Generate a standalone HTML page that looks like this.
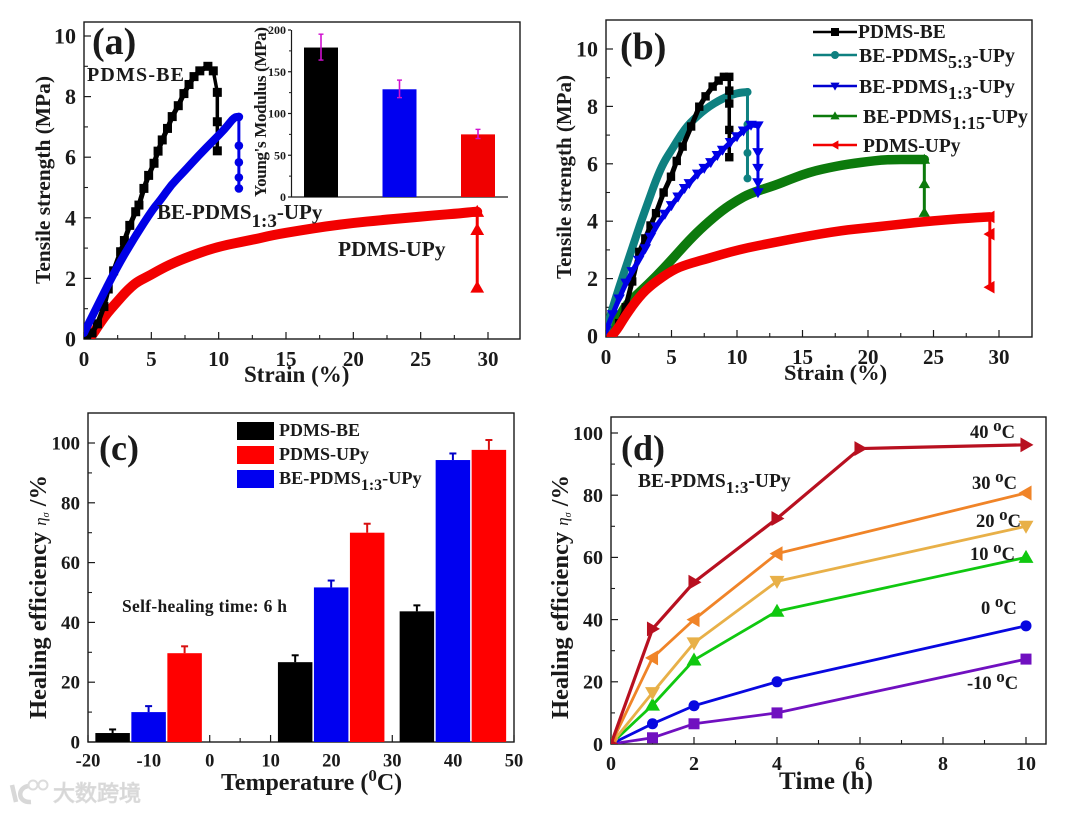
<!DOCTYPE html>
<html lang="en">
<head>
<meta charset="utf-8">
<title>Tensile strength and healing efficiency charts</title>
<style>
html,body{margin:0;padding:0;background:#fff;width:1076px;height:813px;overflow:hidden}
svg{display:block}
text{font-family:"Liberation Serif","Noto Serif CJK SC",serif;font-weight:bold;fill:#1a1a1a}
.wm{font-family:"Liberation Sans","Noto Sans CJK SC",sans-serif;font-weight:normal;fill:#d4d4d4;stroke:#dcdcdc;stroke-width:1}
</style>
</head>
<body>
<svg id="fig" xmlns="http://www.w3.org/2000/svg" width="1076" height="813" viewBox="0 0 1076 813">
  <defs>
    <clipPath id="clip-a"><rect x="84" y="22" width="436" height="317"/></clipPath>
    <clipPath id="clip-b"><rect x="606" y="20" width="426" height="317"/></clipPath>
    <clipPath id="clip-d"><rect x="611" y="417" width="435" height="327"/></clipPath>
  </defs>
  <rect x="0" y="0" width="1076" height="813" fill="#fff"/>

  <g id="panel-a"></g>
  <g id="panel-b"></g>
  <g id="panel-c"></g>
  <g id="panel-d"></g>

  <!-- Panel a text -->
  <text x="92" y="54" font-size="38">(a)</text>
  <text transform="translate(50,180) rotate(-90)" text-anchor="middle" font-size="21.5" textLength="208">Tensile strength (MPa)</text>
  <text x="244" y="382" font-size="23">Strain (%)</text>
  <text x="87" y="81" font-size="20" textLength="97">PDMS-BE</text>
  <text x="157" y="219" font-size="21">BE-PDMS<tspan font-size="19" dy="8">1:3</tspan><tspan dy="-8">-UPy</tspan></text>
  <text x="338" y="256" font-size="21.5">PDMS-UPy</text>
  <text transform="translate(266,112) rotate(-90)" text-anchor="middle" font-size="17" textLength="170">Young's Modulus (MPa)</text>

  <!-- Panel b text -->
  <text x="620" y="59" font-size="38">(b)</text>
  <text transform="translate(571,177) rotate(-90)" text-anchor="middle" font-size="21" textLength="204">Tensile strength (MPa)</text>
  <text x="784" y="380" font-size="22.5">Strain (%)</text>
  <text x="858" y="38" font-size="19.5">PDMS-BE</text>
  <text x="859" y="62" font-size="19.8">BE-PDMS<tspan font-size="18" dy="6">5:3</tspan><tspan dy="-6">-UPy</tspan></text>
  <text x="859" y="93" font-size="19.8">BE-PDMS<tspan font-size="18" dy="6">1:3</tspan><tspan dy="-6">-UPy</tspan></text>
  <text x="863" y="123" font-size="19.8">BE-PDMS<tspan font-size="18" dy="6">1:15</tspan><tspan dy="-6">-UPy</tspan></text>
  <text x="863" y="152" font-size="19.5">PDMS-UPy</text>

  <!-- Panel c text -->
  <text x="99" y="460" font-size="36">(c)</text>
  <text transform="translate(46,597) rotate(-90)" text-anchor="middle" font-size="24.5">Healing efficiency <tspan font-style="italic" font-weight="normal" font-size="17">η<tspan font-size="10" dy="3">σ</tspan></tspan><tspan dy="-3"> /%</tspan></text>
  <text x="221" y="790" font-size="24">Temperature (<tspan font-size="17" dy="-9">0</tspan><tspan dy="9">C)</tspan></text>
  <text x="122" y="612" font-size="17.5" textLength="165">Self-healing time: 6 h</text>
  <text x="279" y="436" font-size="18">PDMS-BE</text>
  <text x="279" y="460" font-size="18">PDMS-UPy</text>
  <text x="279" y="484" font-size="18.2">BE-PDMS<tspan font-size="16" dy="6">1:3</tspan><tspan dy="-6">-UPy</tspan></text>

  <!-- Panel d text -->
  <text x="621" y="460" font-size="36">(d)</text>
  <text transform="translate(568,597) rotate(-90)" text-anchor="middle" font-size="24.5">Healing efficiency <tspan font-style="italic" font-weight="normal" font-size="17">η<tspan font-size="10" dy="3">σ</tspan></tspan><tspan dy="-3"> /%</tspan></text>
  <text x="779" y="789" font-size="25" textLength="94">Time (h)</text>
  <text x="638" y="487" font-size="19.5">BE-PDMS<tspan font-size="17" dy="6">1:3</tspan><tspan dy="-6">-UPy</tspan></text>
  <text x="970" y="438" font-size="18.5">40 <tspan font-size="17" dy="-7">o</tspan><tspan dy="7">C</tspan></text>
  <text x="972" y="489" font-size="18.5">30 <tspan font-size="17" dy="-7">o</tspan><tspan dy="7">C</tspan></text>
  <text x="976" y="527" font-size="18.5">20 <tspan font-size="17" dy="-7">o</tspan><tspan dy="7">C</tspan></text>
  <text x="970" y="560" font-size="18.5">10 <tspan font-size="17" dy="-7">o</tspan><tspan dy="7">C</tspan></text>
  <text x="981" y="614" font-size="18.5">0 <tspan font-size="17" dy="-7">o</tspan><tspan dy="7">C</tspan></text>
  <text x="967" y="689" font-size="18.5">-10 <tspan font-size="17" dy="-7">o</tspan><tspan dy="7">C</tspan></text>

  <!-- Watermark -->
  <g>
    <path d="M12 785 L16 802 M29 786 C17 787 17 803 31 802" fill="none" stroke="#d8d8d8" stroke-width="4.5"/>
    <circle cx="33" cy="785" r="4.5" fill="none" stroke="#dcdcdc" stroke-width="2"/>
    <circle cx="43" cy="785" r="4.5" fill="none" stroke="#dcdcdc" stroke-width="2"/>
    <text class="wm" x="53" y="801" font-size="22">大数跨境</text>
  </g>
</svg>

<script>
var NS = 'http://www.w3.org/2000/svg';

/* ---------- Panel (a) data ---------- */
var aBeStrain = [0.2,0.6,1,1.48,1.8,2.2,2.72,3,3.4,3.84,4.08,4.45,4.8,5.2,5.5,5.81,6.2,6.55,7,7.42,7.8,8.17,8.6,9.2,9.6,9.9,9.9,9.9];
var aBeStress = [0,0.2,0.5,1.07,1.65,2.25,2.88,3.25,3.75,4.2,4.42,4.97,5.4,5.8,6.2,6.57,6.95,7.34,7.7,8.1,8.4,8.66,8.85,9,8.85,8.14,7.17,6.21];
var aUpy13Strain = [0,1,2.47,3.75,5.07,5.69,6.5,7.42,8.5,9.65,10.5,11.14,11.5,11.5,11.5,11.5,11.5];
var aUpy13Stress = [0.2,1.1,2.39,3.35,4.26,4.59,5.1,5.52,6.05,6.57,6.95,7.32,7.33,6.38,5.83,5.33,4.97];
var aUpyStrain = [0.3,0.62,1,1.5,2,2.47,3,3.5,4,4.95,6,7.42,9.9,12.6,14,16,18,20,22,24,26,28,29,29.2,29.2,29.2];
var aUpyStress = [0,0.13,0.4,0.72,1,1.23,1.5,1.72,1.9,2.11,2.38,2.66,3.05,3.28,3.43,3.58,3.72,3.83,3.92,4,4.08,4.15,4.2,4.2,3.6,1.7];

/* Inset data */
var insetSamples = ['PDMS-BE','BE-PDMS 1:3-UPy','PDMS-UPy'];
var insetModulus = [179,129,75];
var insetErrHigh = [195,140,81];
var insetErrLow  = [164,119,70];
var insetTicks   = [0,50,100,150,200];
var insetMinor   = [25,75,125,175];

/* ---------- Panel (b) data ---------- */
var bBeStrain = [0.4,1,1.5,2,2.54,3,3.4,3.82,4.4,4.96,5.4,5.85,6.5,7.12,7.6,8.14,8.6,9,9.41,9.41,9.41,9.41,9.41];
var bBeStress = [0,0.45,1,1.9,2.93,3.4,3.85,4.28,5,5.55,6.1,6.6,7.3,7.99,8.35,8.69,8.9,9.03,9.03,8.55,8.1,7.18,6.23];
var b53Strain = [0,0.76,1.53,2.54,3.2,3.82,4.4,5.09,5.7,6.36,7.63,8.9,10,10.8,10.8,10.8,10.8];
var b53Stress = [0.2,1.37,2.41,3.81,4.65,5.44,6.05,6.54,7,7.41,7.93,8.28,8.47,8.5,7.37,6.38,5.49];
var b13Strain = [0,0.5,1,1.53,2,2.5,3,3.4,3.82,4.5,5,5.5,6,6.36,7,7.5,8,8.5,8.9,9.5,10,10.5,11.07,11.6,11.6,11.6,11.6,11.6];
var b13Stress = [0.2,0.75,1.3,1.85,2.25,2.65,3.05,3.45,3.81,4.25,4.55,4.85,5.15,5.32,5.65,5.85,6.05,6.3,6.48,6.75,6.95,7.15,7.35,7.33,6.4,5.85,5.35,5];
var b115Strain = [0.5,1,1.53,2.5,3.82,5,6.36,7.5,8.9,10,11,12.98,14,15,16,17,18,19,20,21,22,23,24.3,24.3,24.3];
var b115Stress = [0.2,0.65,1.08,1.5,2.07,2.65,3.34,3.85,4.39,4.72,4.97,5.26,5.45,5.62,5.76,5.86,5.95,6.02,6.08,6.13,6.15,6.15,6.15,5.3,4.3];
var bUpyStrain = [0.4,0.76,1.5,2.54,3.5,5.09,6.2,7.63,10.18,12.98,15,18,20,22,24,26,28,29.3,29.3,29.3];
var bUpyStress = [0,0.15,0.72,1.37,1.8,2.3,2.5,2.68,3.02,3.27,3.45,3.68,3.77,3.87,3.97,4.05,4.12,4.15,3.55,1.7];

/* ---------- Panel (c) data ---------- */
var cTemps   = [-10,20,40];
var cBe      = [3,26.7,43.7];
var cBeErr   = [4.2,29,45.7];
var cBe13    = [10,51.7,94.3];
var cBe13Err = [12,54,96.5];
var cUpy     = [29.7,70,97.7];
var cUpyErr  = [32,73,101];

/* ---------- Panel (d) data ---------- */
var dHours   = [0,1,2,4,10];
var dHours40 = [0,1,2,4,6,10];
var dT40  = [0,37,52,72.5,95,96.2];
var dT30  = [0,27.7,40,61.2,80.7];
var dT20  = [0,16.5,32.5,52.3,70];
var dT10  = [0,12.5,27,42.7,60];
var dT0   = [0,6.5,12.3,20,38];
var dTm10 = [0,2,6.5,10,27.3];

/* ---------- Tick arrays ---------- */
var strainMajor = [0,5,10,15,20,25,30];
var strainMinor = [2.5,7.5,12.5,17.5,22.5,27.5];
var stressMajor = [0,2,4,6,8,10];
var stressMinor = [1,3,5,7,9];
var cXMajor = [-20,-10,0,10,20,30,40,50];
var cXMinor = [-15,-5,5,15,25,35,45];
var effMajor = [0,20,40,60,80,100];
var effMinor = [10,30,50,70,90];
var dXMajor = [0,2,4,6,8,10];
var dXMinor = [1,3,5,7,9];

/* ---------- Helpers ---------- */
function linear(d0, d1, p0, p1) {
  return function (v) { return p0 + (v - d0) * (p1 - p0) / (d1 - d0); };
}
function mk(parent, tag) {
  var el = document.createElementNS(NS, tag);
  parent.appendChild(el);
  return el;
}
function seg(parent, x1, y1, x2, y2, color, w, name) {
  var l = mk(parent, 'line');
  l.setAttribute('x1', x1); l.setAttribute('y1', y1);
  l.setAttribute('x2', x2); l.setAttribute('y2', y2);
  l.setAttribute('stroke', color); l.setAttribute('stroke-width', w);
  
  
  return l;
}
function label(parent, x, y, str, size, anchor, name) {
  var t = mk(parent, 'text');
  t.setAttribute('x', x); t.setAttribute('y', y);
  t.setAttribute('font-size', size);
  t.setAttribute('text-anchor', anchor);
  
  
  t.textContent = str;
  return t;
}
function marker(parent, shape, x, y, s, color, name) {
  var m;
  if (shape === 'circle') {
    m = mk(parent, 'circle');
    m.setAttribute('cx', x); m.setAttribute('cy', y); m.setAttribute('r', s);
  } else if (shape === 'square') {
    m = mk(parent, 'rect');
    m.setAttribute('x', x - s); m.setAttribute('y', y - s);
    m.setAttribute('width', 2 * s); m.setAttribute('height', 2 * s);
  } else {
    var p;
    if (shape === 'up') p = [[x, y - s * 1.15], [x + s * 1.15, y + s * 0.85], [x - s * 1.15, y + s * 0.85]];
    if (shape === 'down') p = [[x, y + s * 1.15], [x + s * 1.15, y - s * 0.85], [x - s * 1.15, y - s * 0.85]];
    if (shape === 'left') p = [[x - s * 1.15, y], [x + s * 0.85, y - s * 1.15], [x + s * 0.85, y + s * 1.15]];
    if (shape === 'right') p = [[x + s * 1.15, y], [x - s * 0.85, y - s * 1.15], [x - s * 0.85, y + s * 1.15]];
    m = mk(parent, 'polygon');
    m.setAttribute('points', p.map(function (q) { return q.join(','); }).join(' '));
  }
  m.setAttribute('fill', color);
  
  
  return m;
}
/* Rounds the corners of a run of data points: straight to each midpoint, curving at the points. */
function roundedPath(xs, ys, sx, sy, count) {
  var d = 'M' + sx(xs[0]) + ' ' + sy(ys[0]);
  for (var i = 1; i < count - 1; i++) {
    var mx = (sx(xs[i]) + sx(xs[i + 1])) / 2;
    var my = (sy(ys[i]) + sy(ys[i + 1])) / 2;
    d += ' Q' + sx(xs[i]) + ' ' + sy(ys[i]) + ' ' + mx + ' ' + my;
  }
  d += ' L' + sx(xs[count - 1]) + ' ' + sy(ys[count - 1]);
  return d;
}
/* width = stroke for the loading part; the last dropCount+1 points (fracture drop) use dropWidth.
   smoothBand = the loading part reads as a solid band, so markers appear only from the peak on. */
function series(parent, xs, ys, sx, sy, color, width, shape, size, name, clipId, dropCount, dropWidth, smoothBand) {
  var g = mk(parent, 'g');
  
  
  g.setAttribute('clip-path', 'url(#' + clipId + ')');
  var n = xs.length - (dropCount || 0);
  var pts = xs.map(function (v, i) { return sx(v) + ',' + sy(ys[i]); });
  var line;
  if (smoothBand) {
    line = mk(g, 'path');
    line.setAttribute('d', roundedPath(xs, ys, sx, sy, n));
  } else {
    line = mk(g, 'polyline');
    line.setAttribute('points', pts.slice(0, n).join(' '));
  }
  line.setAttribute('fill', 'none');
  line.setAttribute('stroke', color);
  line.setAttribute('stroke-width', width);
  line.setAttribute('stroke-linejoin', 'round');
  line.setAttribute('stroke-linecap', 'round');
  
  
  if (dropCount) {
    var drop = mk(g, 'polyline');
    drop.setAttribute('points', pts.slice(n - 1).join(' '));
    drop.setAttribute('fill', 'none');
    drop.setAttribute('stroke', color);
    drop.setAttribute('stroke-width', dropWidth);
    
    
  }
  xs.forEach(function (v, i) {
    if (smoothBand && i < n - 1) return;
    marker(g, shape, sx(v), sy(ys[i]), size, color, name + '-point');
  });
}
function frame(parent, left, top, right, bottom, sx, sy, xMaj, xMin, yMaj, yMin, fx, fy, prefix) {
  var r = mk(parent, 'rect');
  r.setAttribute('x', left); r.setAttribute('y', top);
  r.setAttribute('width', right - left); r.setAttribute('height', bottom - top);
  r.setAttribute('fill', 'none'); r.setAttribute('stroke', '#1a1a1a'); r.setAttribute('stroke-width', 1.4);
  
  
  xMaj.forEach(function (v) {
    seg(parent, sx(v), bottom, sx(v), bottom - 7, '#1a1a1a', 1.2, prefix + '-x-tick');
    label(parent, sx(v), bottom + fx + 6, String(v), fx, 'middle', prefix + '-x-tick-label');
  });
  xMin.forEach(function (v) {
    seg(parent, sx(v), bottom, sx(v), bottom - 4, '#1a1a1a', 1.1, prefix + '-x-minor-tick');
  });
  yMaj.forEach(function (v) {
    seg(parent, left, sy(v), left + 7, sy(v), '#1a1a1a', 1.2, prefix + '-y-tick');
    label(parent, left - 8, sy(v) + fy * 0.34, String(v), fy, 'end', prefix + '-y-tick-label');
  });
  yMin.forEach(function (v) {
    seg(parent, left, sy(v), left + 4, sy(v), '#1a1a1a', 1.1, prefix + '-y-minor-tick');
  });
}
function bar(parent, x, w, yTop, yBase, color, name) {
  var r = mk(parent, 'rect');
  r.setAttribute('x', x); r.setAttribute('y', yTop);
  r.setAttribute('width', w); r.setAttribute('height', yBase - yTop);
  r.setAttribute('fill', color);
  
  
}

/* ---------- Panel (a) ---------- */
(function () {
  var g = document.getElementById('panel-a');
  var sx = linear(0, 30, 84, 488), sy = linear(0, 10, 339, 36);
  frame(g, 84, 22, 520, 339, sx, sy, strainMajor, strainMinor, stressMajor, stressMinor, 21, 22, 'panel-a');
  series(g, aUpyStrain, aUpyStress, sx, sy, '#f20000', 10, 'up', 6, 'curve-pdms-upy', 'clip-a', 2, 3, true);
  series(g, aBeStrain, aBeStress, sx, sy, '#000', 5, 'square', 4.5, 'curve-pdms-be', 'clip-a', 3, 3.5, false);
  series(g, aUpy13Strain, aUpy13Stress, sx, sy, '#0000e6', 8, 'circle', 4.3, 'curve-be-pdms-1-3-upy', 'clip-a', 4, 3, true);

  var ix = linear(0, 2, 321, 478), iy = linear(0, 200, 197, 30);
  var colors = ['#000', '#0000f0', '#f00000'];
  seg(g, 291.5, 30, 291.5, 197, '#1a1a1a', 1.2, 'inset-y-axis');
  seg(g, 291, 197, 508, 197, '#1a1a1a', 1.2, 'inset-x-axis');
  insetTicks.forEach(function (v) {
    seg(g, 291, iy(v), 288, iy(v), '#1a1a1a', 1.2, 'inset-y-tick');
    label(g, 286, iy(v) + 4, String(v), 12, 'end', 'inset-y-tick-label');
  });
  insetMinor.forEach(function (v) {
    seg(g, 291, iy(v), 289, iy(v), '#1a1a1a', 1, 'inset-y-minor-tick');
  });
  insetModulus.forEach(function (v, i) {
    bar(g, ix(i) - 17, 34, iy(v), 197, colors[i], 'inset-bar');
    seg(g, ix(i), iy(insetErrHigh[i]), ix(i), iy(insetErrLow[i]), '#d010d0', 1.6, 'inset-error-bar');
    seg(g, ix(i) - 2.5, iy(insetErrHigh[i]), ix(i) + 2.5, iy(insetErrHigh[i]), '#d010d0', 1.4, 'inset-error-cap');
    seg(g, ix(i) - 2.5, iy(insetErrLow[i]), ix(i) + 2.5, iy(insetErrLow[i]), '#d010d0', 1.4, 'inset-error-cap');
  });
})();

/* ---------- Panel (b) ---------- */
(function () {
  var g = document.getElementById('panel-b');
  var sx = linear(0, 30, 606, 999), sy = linear(0, 10, 336, 49);
  frame(g, 606, 20, 1032, 337, sx, sy, strainMajor, strainMinor, stressMajor, stressMinor, 21, 22, 'panel-b');
  series(g, b115Strain, b115Stress, sx, sy, '#0c7a0c', 9.5, 'up', 5, 'curve-be-pdms-1-15-upy', 'clip-b', 2, 3, true);
  series(g, b53Strain, b53Stress, sx, sy, '#0e8080', 8, 'circle', 4, 'curve-be-pdms-5-3-upy', 'clip-b', 3, 3, true);
  series(g, bBeStrain, bBeStress, sx, sy, '#000', 5, 'square', 4.2, 'curve-pdms-be', 'clip-b', 4, 3.5, false);
  series(g, b13Strain, b13Stress, sx, sy, '#0000e6', 5, 'down', 5, 'curve-be-pdms-1-3-upy', 'clip-b', 4, 3, false);
  series(g, bUpyStrain, bUpyStress, sx, sy, '#f20000', 9.5, 'left', 5.5, 'curve-pdms-upy', 'clip-b', 2, 3, true);
  var legY = [32, 55, 86, 116, 145];
  var legC = ['#000', '#0e8080', '#0000d0', '#0c7a0c', '#f20000'];
  var legS = ['square', 'circle', 'down', 'up', 'left'];
  legY.forEach(function (y, i) {
    seg(g, 813, y, 857, y, legC[i], 2.4, 'legend-line');
    marker(g, legS[i], 835, y, 4, legC[i], 'legend-marker');
  });
})();

/* ---------- Panel (c) ---------- */
(function () {
  var g = document.getElementById('panel-c');
  var sx = linear(-20, 50, 88, 514), sy = linear(0, 100, 742, 443);
  frame(g, 88, 413, 514, 742, sx, sy, cXMajor, cXMinor, effMajor, effMinor, 18.5, 19, 'panel-c');
  var w = 34.5, off = [-53.5, -17.5, 18.5];
  var vals = [cBe, cBe13, cUpy], errs = [cBeErr, cBe13Err, cUpyErr];
  var cols = ['#000', '#0000f0', '#ff0000'];
  var errCols = ['#000', '#0000c8', '#d81010'];
  var names = ['bar-pdms-be', 'bar-be-pdms-1-3-upy', 'bar-pdms-upy'];
  cTemps.forEach(function (t, i) {
    vals.forEach(function (arr, k) {
      var x = sx(t) + off[k];
      seg(g, x + w / 2, sy(arr[i]), x + w / 2, sy(errs[k][i]), errCols[k], 2, 'error-bar');
      seg(g, x + w / 2 - 3.5, sy(errs[k][i]), x + w / 2 + 3.5, sy(errs[k][i]), errCols[k], 2, 'error-cap');
      bar(g, x, w, sy(arr[i]), 742, cols[k], names[k]);
    });
  });
  bar(g, 237, 37, 422, 440, '#000', 'legend-swatch-pdms-be');
  bar(g, 237, 37, 446, 464, '#ff0000', 'legend-swatch-pdms-upy');
  bar(g, 237, 37, 470, 488, '#0000f0', 'legend-swatch-be-pdms-1-3-upy');
})();

/* ---------- Panel (d) ---------- */
(function () {
  var g = document.getElementById('panel-d');
  var sx = linear(0, 10, 611, 1026), sy = linear(0, 100, 744, 433);
  frame(g, 611, 417, 1046, 744, sx, sy, dXMajor, dXMinor, effMajor, effMinor, 20, 20, 'panel-d');
  series(g, dHours, dTm10, sx, sy, '#7010c0', 2.8, 'square', 5.5, 'line-minus-10c', 'clip-d');
  series(g, dHours, dT0, sx, sy, '#0808e0', 2.8, 'circle', 5.5, 'line-0c', 'clip-d');
  series(g, dHours, dT10, sx, sy, '#10c810', 2.8, 'up', 6.5, 'line-10c', 'clip-d');
  series(g, dHours, dT20, sx, sy, '#e8b048', 2.8, 'down', 6.5, 'line-20c', 'clip-d');
  series(g, dHours, dT30, sx, sy, '#f08428', 2.8, 'left', 6.5, 'line-30c', 'clip-d');
  series(g, dHours40, dT40, sx, sy, '#b81020', 3.2, 'right', 6.5, 'line-40c', 'clip-d');
})();
</script>
</body>
</html>
